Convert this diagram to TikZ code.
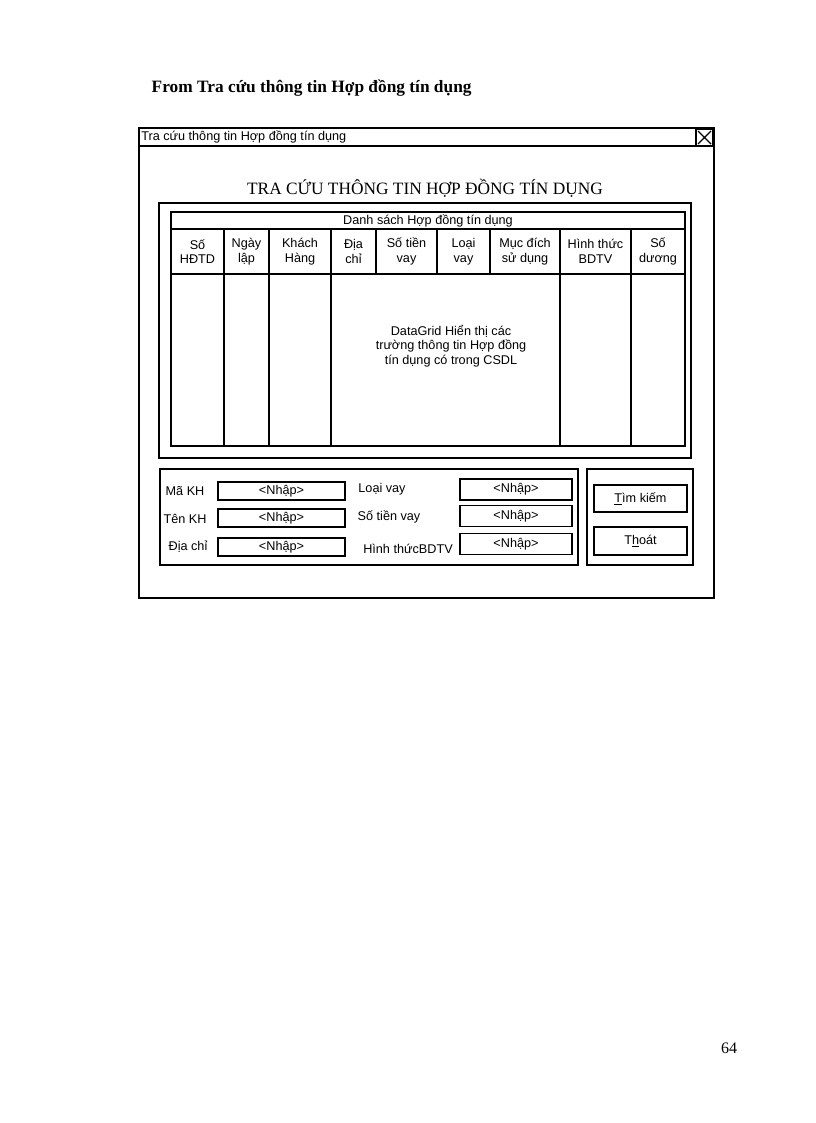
\documentclass[tikz,border=0pt]{standalone}
\usepackage{fontspec}
\setmainfont{Liberation Serif}
\setsansfont{Liberation Sans}
\begin{document}
\begin{tikzpicture}[x=0.75pt,y=-0.75pt,
  bx/.style={draw,line width=0.9pt},
  sf/.style={font=\sffamily\fontsize{9.5}{11}\selectfont,inner sep=0pt},
  cell/.style={sf,align=center}]
\useasboundingbox (0,0) rectangle (816,1123);
\node[anchor=west,font=\bfseries\fontsize{13}{15}\selectfont] (head) at (147,88) {From Tra cứu thông tin Hợp đồng tín dụng};
% window
\draw[bx] (139,128) rectangle (714,598);
\draw[bx] (139,146) -- (714,146);
\node[sf,anchor=west] (wt) at (141,137) {Tra cứu thông tin Hợp đồng tín dụng};
\draw[bx] (696,129) rectangle (713,146);
\draw[line width=0.9pt] (698,131) -- (711,144) (711,131) -- (698,144);
\node[font=\fontsize{13}{15}\selectfont] (title) at (425,188) {TRA CỨU THÔNG TIN HỢP ĐỒNG TÍN DỤNG};
% grid
\draw[bx] (159,203) rectangle (691,458);
\draw[bx] (171,212) rectangle (685,446);
\draw[bx] (171,229) -- (685,229) (171,274) -- (685,274);
\node[sf] (dsh) at (428,220.5) {Danh sách Hợp đồng tín dụng};
\foreach \x in {224,269,331,560,631} \draw[bx] (\x,229) -- (\x,446);
\foreach \x in {376,437,490} \draw[bx] (\x,229) -- (\x,274);
\node[cell] (c1) at (197.5,251.5) {Số\\HĐTD};
\node[cell] (c2) at (246.5,251.5) {Ngày\\lập};
\node[cell] (c3) at (300,251.5) {Khách\\Hàng};
\node[cell] (c4) at (353.5,251.5) {Địa\\chỉ};
\node[cell] (c5) at (406.5,251.5) {Số tiền\\vay};
\node[cell] (c6) at (463.5,251.5) {Loại\\vay};
\node[cell] (c7) at (525,251.5) {Mục đích\\sử dụng};
\node[cell] (c8) at (595.5,251.5) {Hình thức\\BDTV};
\node[cell] (c9) at (658,251.5) {Số\\dương};
\node[cell] (dg) at (451,346) {DataGrid Hiển thị các\\trường thông tin Hợp đồng\\tín dụng có trong CSDL};
% search box
\draw[bx] (160,469) rectangle (578,565);
\draw[bx] (587,469) rectangle (693,565);
\node[sf] (l1) at (185,491) {Mã KH};
\node[sf] (l2) at (185,519) {Tên KH};
\node[sf] (l3) at (188,547) {Địa chỉ};
\node[bx,sf,minimum width=95.25pt,minimum height=13.5pt] (i1) at (281.5,491) {<Nhập>};
\node[bx,sf,minimum width=95.25pt,minimum height=13.5pt] (i2) at (281.5,518) {<Nhập>};
\node[bx,sf,minimum width=95.25pt,minimum height=13.5pt] (i3) at (281.5,547) {<Nhập>};
\node[sf] (l4) at (382,489) {Loại vay};
\node[sf] (l5) at (389,517) {Số tiền vay};
\node[sf] (l6) at (408,549) {Hình thứcBDTV};
\node[bx,sf,minimum width=84pt,minimum height=15.75pt] (i4) at (516,489.5) {<Nhập>};
\node[bx,sf,minimum width=84pt,minimum height=15.75pt] (i5) at (516,516) {<Nhập>};
\node[bx,sf,minimum width=84pt,minimum height=15.75pt] (i6) at (516,544) {<Nhập>};
\node[bx,sf,minimum width=69.75pt,minimum height=20.25pt] (b1) at (640.5,498.5) {\underline{T}ìm kiếm};
\node[bx,sf,minimum width=69.75pt,minimum height=21pt] (b2) at (640.5,541) {T\underline{h}oát};
\node[font=\fontsize{12}{14}\selectfont] (pg) at (729,1048) {64};
\end{tikzpicture}
\end{document}
